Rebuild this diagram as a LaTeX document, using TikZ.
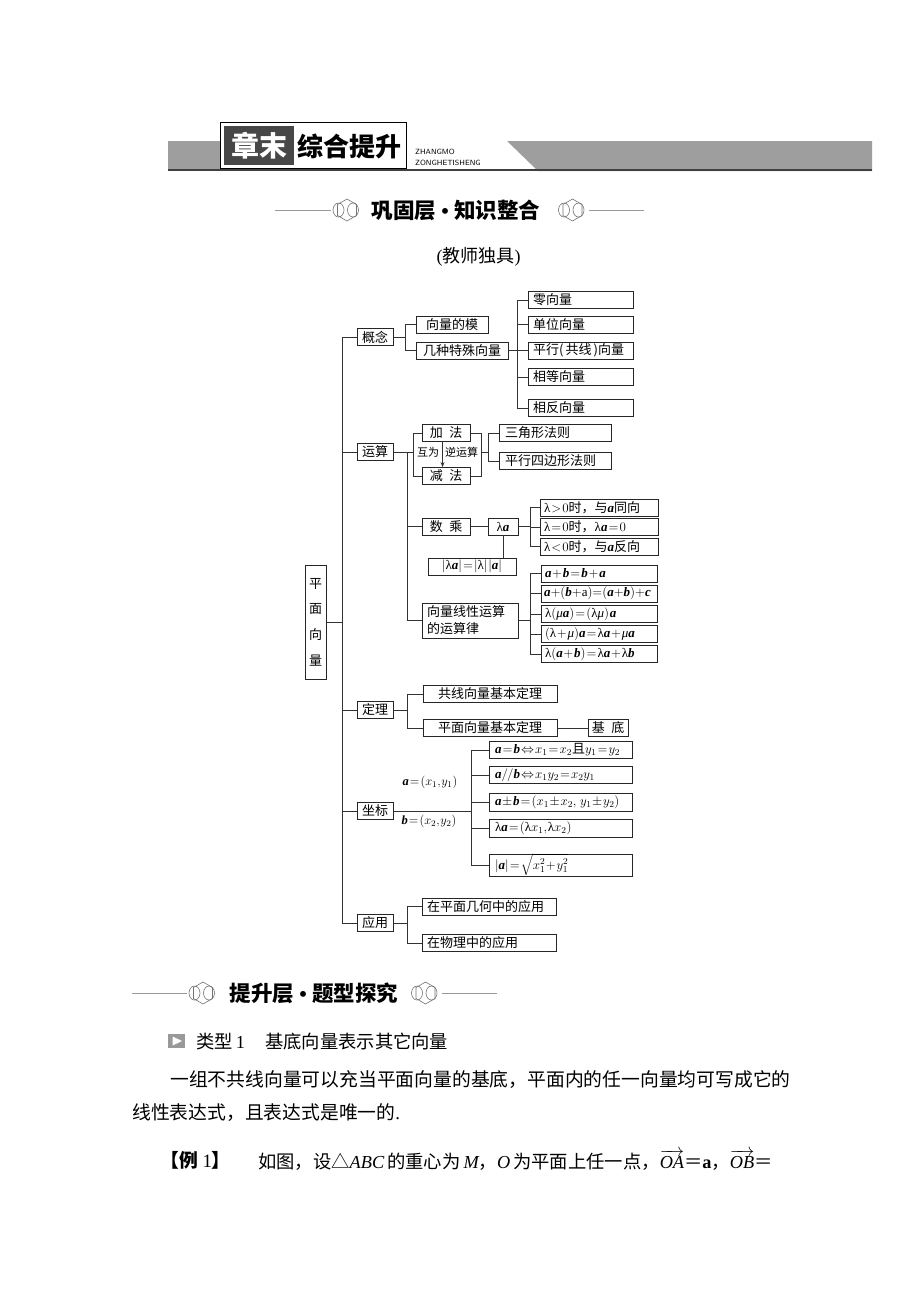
\RequirePackage{fix-cm}
\documentclass[tikz,border=0pt]{standalone}
\usepackage{amsmath}
\usepackage{fontspec}
\setmainfont{Liberation Serif}
\newfontfamily\cjk{Noto Sans CJK SC}
\usetikzlibrary{calc,arrows.meta}
\newcommand{\tight}{\thinmuskip=1mu\medmuskip=1mu\thickmuskip=1.5mu}
\tikzset{
  bx/.style={draw=black!85, line width=0.9pt, inner sep=0pt, minimum height=17pt, font=\cjk\fontsize{13}{15}\selectfont\tight},
  lbx/.style={bx, inner xsep=5pt},
  ln/.style={line width=0.9pt, draw=black!80},
  lab/.style={inner sep=0pt, font=\fontsize{12.5}{14}\selectfont\tight},
  orn/.pic={
    \draw[black!55, line width=0.6pt] (90:11) -- (150:11) -- (210:11) -- (270:11) -- (330:11) -- (30:11) -- cycle;
    \draw[black!55, line width=0.6pt] (-8.5,0) ellipse (5.5 and 7);
    \draw[black!55, line width=0.6pt] (6,0) ellipse (5.5 and 7);
  },
}
\newcommand{\va}{\text{\normalfont\bfseries\itshape a}}
\newcommand{\vb}{\text{\normalfont\bfseries\itshape b}}
\newcommand{\vc}{\text{\normalfont\bfseries\itshape c}}
\newcommand{\lam}{\text{\normalfont λ}}
\newcommand{\mmu}{\text{\normalfont\itshape μ}}
\newcommand{\lft}[2]{\makebox[#1][l]{#2}}
\begin{document}
\begin{tikzpicture}[x=1pt,y=-1pt]
\useasboundingbox (0,0) rectangle (920,1302);
\fill[white] (0,0) rectangle (920,1302);

% ---------- header band ----------
\fill[black!38] (168,141) rectangle (221,171);
\fill[black!38] (507,141) -- (872,141) -- (872,171) -- (538,171) -- cycle;
\draw[black!75, line width=1.6pt] (168,170) -- (872,170);
\draw[fill=white, line width=0.8pt] (220,122) rectangle (406,168);
\fill[black!72] (224,126) rectangle (294,165);
\node[font=\cjk\bfseries\fontsize{28}{28}\selectfont, text=white] (zm) at (259,146) {章末};
\node[font=\cjk\bfseries\fontsize{26}{26}\selectfont] (zh) at (349.5,146) {综合提升};
\node[anchor=west, inner sep=0pt, font=\sffamily\fontsize{7.5}{8}\selectfont] (py1) at (415,152) {ZHANGMO};
\node[anchor=west, inner sep=0pt, font=\sffamily\fontsize{7.5}{8}\selectfont] (py2) at (415,162.5) {ZONGHETISHENG};

% ---------- section title 1 ----------
\draw[black!40, line width=0.6pt] (275,210) -- (331,210);
\draw[black!40, line width=0.6pt] (589,210) -- (644,210);
\pic at (347,210) {orn};
\pic at (572.5,210) {orn};
\node[font=\cjk\bfseries\fontsize{21.5}{22}\selectfont] (t1) at (456,210) {巩固层\hspace{5pt}{\rmfamily\bfseries •}\hspace{5pt}知识整合};
\node[font=\cjk\fontsize{18}{18}\selectfont] (jsdj) at (478.5,257) {{\rmfamily(}教师独具{\rmfamily)}};

% ---------- tree ----------
\node[bx, minimum width=21pt, minimum height=114pt, align=center, font=\cjk\fontsize{13}{25.7}\selectfont] (root) at (315.5,622) {平\\面\\向\\量};

\node[bx, minimum width=36pt] (gn) at (375,337) {概念};
\node[bx, minimum width=36pt] (ys) at (375,452) {运算};
\node[bx, minimum width=36pt] (dl) at (375,710) {定理};
\node[bx, minimum width=36pt] (zb) at (375,811) {坐标};
\node[bx, minimum width=36pt] (yy) at (375,923) {应用};

\draw[ln] (root.east) -- ++(16,0) coordinate (tk);
\foreach \n in {gn,ys,dl,zb,yy} \draw[ln] (tk) |- (\n.west);

% 概念
\node[bx, minimum width=72pt] (mo) at (452,324.5) {向量的模};
\node[bx, minimum width=92pt] (ts) at (462,350.5) {几种特殊向量};
\draw[ln] (gn.east) -- ++(12,0) coordinate (g1);
\draw[ln] (g1) |- (mo.west);
\draw[ln] (g1) |- (ts.west);

\node[lbx] (k1) at (580.5,300) {\lft{95pt}{零向量}};
\node[lbx] (k2) at (580.5,324.5) {\lft{95pt}{单位向量}};
\node[lbx] (k3) at (580.5,350.5) {\lft{95pt}{平行(\,共线\,)向量}};
\node[lbx] (k4) at (580.5,377) {\lft{95pt}{相等向量}};
\node[lbx] (k5) at (580.5,408) {\lft{95pt}{相反向量}};
\draw[ln] (ts.east) -- ++(9,0) coordinate (k0);
\foreach \n in {k1,k2,k3,k4,k5} \draw[ln] (k0) |- (\n.west);

% 运算
\node[bx, minimum width=48pt] (jia) at (446,433) {加\enspace 法};
\node[bx, minimum width=48pt] (jian) at (446,476) {减\enspace 法};
\draw[ln] (ys.east) -- ++(20,0) coordinate (y1);
\draw[ln] (y1) |- (jia.west);
\draw[ln] (y1) |- (jian.west);
\draw[ln, -{Stealth[length=5pt,width=4pt]}] ($(jia.south west)+(21,0)$) -- ($(jian.north west)+(21,0)$);
\node[inner sep=0pt, font=\cjk\fontsize{11}{12}\selectfont] (hw) at (428,452) {互为};
\node[inner sep=0pt, font=\cjk\fontsize{11}{12}\selectfont] (ny) at (461.5,452) {逆运算};
\draw[ln] (jia.east) -- ++(11,0) |- (jian.east);
\coordinate (rm) at ($(ys.east -| jia.east)+(11,0)$);
\draw[ln] (rm) -- ++(7,0) coordinate (r2);
\node[lbx, inner xsep=6pt] (sj) at (555,433) {\lft{100pt}{三角形法则}};
\node[lbx, inner xsep=6pt] (px) at (555,461) {\lft{100pt}{平行四边形法则}};
\draw[ln] (r2) |- (sj.west);
\draw[ln] (r2) |- (px.west);

\path (ys.east) ++(14,0) coordinate (y0);
\node[bx, minimum width=48pt] (sc) at (446,526.5) {数\enspace 乘};
\node[bx, minimum width=30pt] (la) at (503,526.5) {$\lam\va$};
\node[bx, minimum width=88pt] (ab) at (472,566.5) {$|\lam\va|=|\lam|\,|\va|$};
\node[bx, text width=86pt, inner xsep=5pt, align=left, minimum height=35pt, font=\cjk\fontsize{13}{17}\selectfont] (law) at (470,620.5) {向量线性运算\\的运算律};
\draw[ln] (y0) |- (sc.west);
\draw[ln] (y0) |- (law.west);
\draw[ln] (sc.east) -- (la.west);
\draw[ln] (la.south) -- (la.south |- ab.north);

\node[lbx, inner xsep=4pt] (p1) at (599,507.5) {\lft{110pt}{$\lam>0$时，与$\va$同向}};
\node[lbx, inner xsep=4pt] (p2) at (599,527) {\lft{110pt}{$\lam=0$时，$\lam\va=0$}};
\node[lbx, inner xsep=4pt] (p3) at (599,546.5) {\lft{110pt}{$\lam<0$时，与$\va$反向}};
\draw[ln] (la.east) -- ++(12,0) coordinate (l0);
\foreach \n in {p1,p2,p3} \draw[ln] (l0) |- (\n.west);

\node[lbx, inner xsep=4pt] (q1) at (599,573.5) {\lft{108pt}{$\va+\vb=\vb+\va$}};
\node[lbx, inner xsep=3pt] (q2) at (599,593.5) {\lft{110pt}{\medmuskip=0mu\thickmuskip=0mu$\va+(\vb+\mathrm{a})=(\va+\vb)+\vc$}};
\node[lbx, inner xsep=4pt] (q3) at (599,614) {\lft{108pt}{$\lam(\mmu\va)=(\lam\mmu)\,\va$}};
\node[lbx, inner xsep=4pt] (q4) at (599,634) {\lft{108pt}{$(\lam+\mmu)\va=\lam\va+\mmu\va$}};
\node[lbx, inner xsep=4pt] (q5) at (599,654) {\lft{108pt}{$\lam(\va+\vb)=\lam\va+\lam\vb$}};
\draw[ln] (law.east) -- ++(12,0) coordinate (w0);
\foreach \n in {q1,q2,q3,q4,q5} \draw[ln] (w0) |- (\n.west);

% 定理
\node[bx, minimum width=134pt] (gx) at (490,694) {共线向量基本定理};
\node[bx, minimum width=134pt] (pm) at (490,728) {平面向量基本定理};
\node[bx, minimum width=40pt] (jd) at (608,728) {基\enspace 底};
\draw[ln] (dl.east) -- ++(14,0) coordinate (d0);
\draw[ln] (d0) |- (gx.west);
\draw[ln] (d0) |- (pm.west);
\draw[ln] (pm.east) -- (jd.west);

% 坐标
\node[lbx, inner xsep=6pt] (z1) at (560.5,750) {\lft{131pt}{$\va=\vb\Leftrightarrow x_1=x_2$且$y_1=y_2$}};
\node[lbx, inner xsep=6pt] (z2) at (560.5,775) {\lft{131pt}{$\va/\!/\vb\Leftrightarrow x_1y_2=x_2y_1$}};
\node[lbx, inner xsep=6pt, minimum height=18pt] (z3) at (560.5,802) {\lft{131pt}{$\va\pm\vb=(x_1\pm x_2,\ y_1\pm y_2)$}};
\node[lbx, inner xsep=6pt, minimum height=18pt] (z4) at (560.5,828) {\lft{131pt}{$\lam\va=(\lam x_1,\lam x_2)$}};
\node[lbx, inner xsep=6pt, minimum height=22pt] (z5) at (560.5,865) {\lft{131pt}{$|\va|=\sqrt{x_1^2+y_1^2}$}};
\draw[ln] (zb.east) -- ++(78,0) coordinate (z0);
\foreach \n in {z1,z2,z3,z4,z5} \draw[ln] (z0) |- (\n.west);
\node[lab] (zla) at (430,782) {$\va=(x_1,y_1)$};
\node[lab] (zlb) at (429,821) {$\vb=(x_2,y_2)$};

% 应用
\node[lbx] (u1) at (489,906.5) {\lft{124pt}{在平面几何中的应用}};
\node[lbx] (u2) at (489,943) {\lft{124pt}{在物理中的应用}};
\draw[ln] (yy.east) -- ++(14,0) coordinate (a0);
\draw[ln] (a0) |- (u1.west);
\draw[ln] (a0) |- (u2.west);

% ---------- section title 2 ----------
\draw[black!40, line width=0.6pt] (132,993) -- (187,993);
\draw[black!40, line width=0.6pt] (442,993) -- (497,993);
\pic at (203,993) {orn};
\pic at (425.5,993) {orn};
\node[font=\cjk\bfseries\fontsize{21.5}{22}\selectfont] (t2) at (314,993) {提升层\hspace{5pt}{\rmfamily\bfseries •}\hspace{5pt}题型探究};

% ---------- body text ----------
\fill[black!40] (168,1034) rectangle (185,1048);
\fill[white] (172.5,1036.5) -- (182,1041) -- (172.5,1045.5) -- cycle;
\node[anchor=west, inner sep=0pt, font=\cjk\fontsize{18.3}{19}\selectfont] (lx) at (196,1042) {类型\,{\rmfamily 1}};
\node[anchor=west, inner sep=0pt, font=\cjk\fontsize{18.3}{19}\selectfont] (lxt) at (265,1042) {基底向量表示其它向量};

\node[anchor=west, inner sep=0pt, font=\cjk\fontsize{18.8}{19}\selectfont] (l1) at (170,1080) {一组不共线向量可以充当平面向量的基底，平面内的任一向量均可写成它的};
\node[anchor=west, inner sep=0pt, font=\cjk\fontsize{18.8}{19}\selectfont] (l2) at (132,1113) {线性表达式，且表达式是唯一的{\rmfamily .}};
\node[anchor=west, inner sep=0pt, font=\cjk\bfseries\fontsize{18.8}{19}\selectfont] (l3a) at (160,1160) {【例{\rmfamily\mdseries\ 1}】};
\node[anchor=west, inner sep=0pt, font=\cjk\fontsize{18.3}{19}\selectfont] (l3b) at (258,1160) {如图，设△{\rmfamily\itshape ABC}\,的重心为\,{\rmfamily\itshape M}，{\rmfamily\itshape O}\,为平面上任一点，$\overrightarrow{\text{\normalfont\itshape OA}}$＝{\rmfamily\bfseries a}，$\overrightarrow{\text{\normalfont\itshape OB}}$＝};
\end{tikzpicture}
\end{document}
